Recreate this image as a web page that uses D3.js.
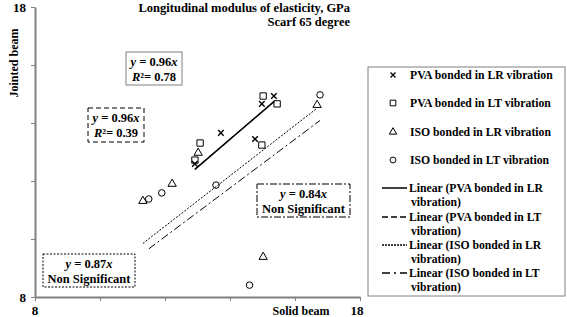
<!DOCTYPE html>
<html>
<head>
<meta charset="utf-8">
<script src="https://cdn.jsdelivr.net/npm/d3@7"></script>
<style>
  body { margin: 0; background: #fff; }
  svg text { font-family: "Liberation Serif", "Times New Roman", serif; font-weight: bold; fill: #000; }
</style>
</head>
<body>
<div id="chart"></div>
<script>
// series (solid beam, jointed beam), GPa
var seriesNames = ["PVA bonded in LR vibration", "PVA bonded in LT vibration",
                   "ISO bonded in LR vibration", "ISO bonded in LT vibration"];
var pvaLR_x = [15.35, 14.98, 13.72, 14.77, 12.92];
var pvaLR_y = [14.93, 14.66, 13.66, 13.45, 12.59];
var pvaLT_x = [15.02, 15.45, 13.08, 14.98, 12.92];
var pvaLT_y = [14.93, 14.66, 13.31, 13.24, 12.72];
var isoLR_x = [13.02, 16.68, 12.22, 11.32, 15.02];
var isoLR_y = [12.97, 14.62, 11.90, 11.31, 9.38];
var isoLT_x = [16.77, 11.50, 11.90, 13.57, 14.60];
var isoLT_y = [14.97, 11.38, 11.59, 11.86, 8.41];
var trendSlopes = [0.96, 0.96, 0.87, 0.84];
var trendR2 = ["0.78", "0.39", null, null];
var axisTicks = [8, 10, 12, 14, 16, 18];

var W = 567, H = 317;
var svg = d3.select("#chart").append("svg").attr("width", W).attr("height", H);

var x = d3.scaleLinear().domain([8, 18]).range([35, 360]);
var y = d3.scaleLinear().domain([8, 18]).range([297, 7]);

// axes
svg.append("g")
  .attr("transform", "translate(0,297)")
  .call(d3.axisBottom(x).tickValues(axisTicks).tickSize(4).tickSizeOuter(0).tickFormat(""))
  .call(function(g){ g.select(".domain").attr("stroke", "#808080").attr("stroke-width", 2); g.selectAll(".tick line").attr("stroke", "#808080"); });
svg.append("g")
  .attr("transform", "translate(35,0)")
  .call(d3.axisLeft(y).tickValues(axisTicks).tickSize(4).tickSizeOuter(0).tickFormat(""))
  .call(function(g){ g.select(".domain").attr("stroke", "#808080").attr("stroke-width", 2); g.selectAll(".tick line").attr("stroke", "#808080"); });

// only end labels shown
svg.append("text").attr("x", x(8)).attr("y", 315).attr("text-anchor", "middle").style("font-size", "13px").text("8");
svg.append("text").attr("x", x(18) - 3).attr("y", 315).attr("text-anchor", "middle").style("font-size", "13px").text("18");
svg.append("text").attr("x", 26).attr("y", y(8) + 5).attr("text-anchor", "end").style("font-size", "13px").text("8");
svg.append("text").attr("x", 26).attr("y", y(18) + 5).attr("text-anchor", "end").style("font-size", "13px").text("18");

svg.append("text").attr("x", 301).attr("y", 315).attr("text-anchor", "middle").style("font-size", "12px").text("Solid beam");
svg.append("text").attr("transform", "translate(18,63) rotate(-90)").attr("text-anchor", "middle").style("font-size", "12px").text("Jointed beam");

svg.append("text").attr("x", 350).attr("y", 12).attr("text-anchor", "end").style("font-size", "12.5px").text("Longitudinal modulus of elasticity, GPa");
svg.append("text").attr("x", 350).attr("y", 26).attr("text-anchor", "end").style("font-size", "12.5px").text("Scarf 65 degree");

var series = [
  { xs: pvaLR_x, ys: pvaLR_y, sym: d3.symbolX },
  { xs: pvaLT_x, ys: pvaLT_y, sym: d3.symbolSquare },
  { xs: isoLR_x, ys: isoLR_y, sym: d3.symbolTriangle },
  { xs: isoLT_x, ys: isoLT_y, sym: d3.symbolCircle }
];
var symSize = [22, 40, 30, 34];
var dashes = [null, "6,3", "2,1.5", "8,3,2,3"];

// trend lines y = k x over each series' x range
series.forEach(function(s, i) {
  var lo = d3.min(s.xs), hi = d3.max(s.xs);
  svg.append("line")
    .attr("x1", x(lo)).attr("y1", y(trendSlopes[i] * lo))
    .attr("x2", x(hi)).attr("y2", y(trendSlopes[i] * hi))
    .attr("stroke", "#000")
    .attr("stroke-width", i === 0 ? 1.6 : 1)
    .attr("stroke-dasharray", dashes[i]);
});

// points
series.forEach(function(s, i) {
  svg.append("g").selectAll("path")
    .data(s.xs.map(function(v, j){ return [v, s.ys[j]]; }))
    .enter().append("path")
    .attr("transform", function(d){ return "translate(" + x(d[0]) + "," + y(d[1]) + ")"; })
    .attr("d", d3.symbol().type(s.sym).size(symSize[i]))
    .attr("fill", "none")
    .attr("stroke", "#000")
    .attr("stroke-width", i === 0 ? 1.4 : 1);
});

// equation boxes
var boxes = [
  { x: 126, y: 52, w: 56, h: 33, i: 0, stroke: "#808080", dash: null },
  { x: 88, y: 108, w: 56, h: 34, i: 1, stroke: "#000", dash: "5,3" },
  { x: 43, y: 254, w: 92, h: 33, i: 2, stroke: "#000", dash: "2,1.5" },
  { x: 257, y: 184, w: 93, h: 33, i: 3, stroke: "#000", dash: "7,2,2,2" }
];
boxes.forEach(function(b) {
  svg.append("rect").attr("x", b.x).attr("y", b.y).attr("width", b.w).attr("height", b.h)
    .attr("fill", "#fff").attr("stroke", b.stroke).attr("stroke-dasharray", b.dash);
  var cx = b.x + b.w / 2;
  var t1 = svg.append("text").attr("x", cx).attr("y", b.y + 14).attr("text-anchor", "middle").style("font-size", "12.5px");
  t1.append("tspan").style("font-style", "italic").text("y");
  t1.append("tspan").text(" = " + trendSlopes[b.i].toFixed(2));
  t1.append("tspan").style("font-style", "italic").text("x");
  var t2 = svg.append("text").attr("x", cx).attr("y", b.y + 29).attr("text-anchor", "middle").style("font-size", "12.5px");
  if (trendR2[b.i]) {
    t2.append("tspan").style("font-style", "italic").text("R");
    t2.append("tspan").text("²= " + trendR2[b.i]);
  } else {
    t2.text("Non Significant");
  }
});

// legend
var lg = svg.append("g");
lg.append("rect").attr("x", 368).attr("y", 67).attr("width", 197).attr("height", 229)
  .attr("fill", "#fff").attr("stroke", "#808080");
var markY = [75, 103, 132, 160];
series.forEach(function(s, i) {
  lg.append("path")
    .attr("transform", "translate(393," + (markY[i]) + ")")
    .attr("d", d3.symbol().type(s.sym).size(symSize[i] * 0.8))
    .attr("fill", "none").attr("stroke", "#000").attr("stroke-width", i === 0 ? 1.3 : 1);
  lg.append("text").attr("x", 410).attr("y", markY[i] + 4).style("font-size", "11.7px").text(seriesNames[i]);
});
var lineY = [188, 217, 245, 273];
series.forEach(function(s, i) {
  lg.append("line").attr("x1", 382).attr("x2", 407).attr("y1", lineY[i]).attr("y2", lineY[i])
    .attr("stroke", "#000").attr("stroke-width", i === 0 ? 1.5 : 1.3)
    .attr("stroke-dasharray", [null, "6,3", "2,1", "8,4,2,4"][i]);
  var nm = seriesNames[i].replace(" vibration", "");
  lg.append("text").attr("x", 409).attr("y", lineY[i] + 4).style("font-size", "11.7px").text("Linear (" + nm);
  lg.append("text").attr("x", 411).attr("y", lineY[i] + 18).style("font-size", "11.7px").text("vibration)");
});
</script>
</body>
</html>
